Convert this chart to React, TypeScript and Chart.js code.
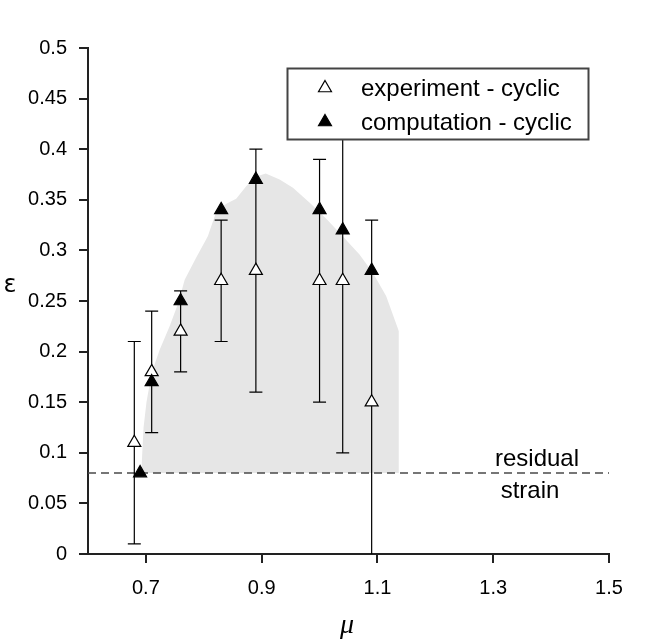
import { useEffect, useRef } from "react"
import { Chart, registerables } from "chart.js"

Chart.register(...registerables)

// experiment - cyclic (open triangles) with error bars
const expMu = [0.68, 0.71, 0.76, 0.83, 0.89, 1.0, 1.04, 1.09]
const expEps = [0.11, 0.18, 0.22, 0.27, 0.28, 0.27, 0.27, 0.15]
const expLow = [0.01, 0.12, 0.18, 0.21, 0.16, 0.15, 0.1, 0.0]
const expHigh = [0.21, 0.24, 0.26, 0.33, 0.4, 0.39, 0.44, 0.33]

// computation - cyclic (filled triangles)
const compMu = [0.69, 0.71, 0.76, 0.83, 0.89, 1.0, 1.04, 1.09]
const compEps = [0.08, 0.17, 0.25, 0.34, 0.37, 0.34, 0.32, 0.28]

// grey band (upper outline, filled down to the residual strain)
const bandMu = [
    0.692, 0.696, 0.701, 0.71, 0.724, 0.741, 0.756, 0.767, 0.787, 0.807, 0.822, 0.839, 0.856,
    0.874, 0.891, 0.907, 0.931, 0.954, 0.983, 1.012, 1.04, 1.069, 1.092, 1.115, 1.137, 1.137,
]
const bandEps = [
    0.08, 0.125, 0.15, 0.179, 0.202, 0.225, 0.248, 0.271, 0.293, 0.314, 0.339, 0.346, 0.351,
    0.364, 0.373, 0.376, 0.37, 0.362, 0.347, 0.331, 0.314, 0.296, 0.278, 0.255, 0.22, 0.08,
]

const residualStrain = 0.08
const xTicks = [0.7, 0.9, 1.1, 1.3, 1.5]

const FONT = "'Liberation Sans', Arial, Helvetica, sans-serif"

function triangle(ctx: CanvasRenderingContext2D, x: number, y: number, r: number, filled: boolean) {
    ctx.beginPath()
    for (let i = 0; i < 3; i++) {
        const a = (i * 2 * Math.PI) / 3
        const px = x + Math.sin(a) * r
        const py = y - Math.cos(a) * r
        if (i === 0) ctx.moveTo(px, py)
        else ctx.lineTo(px, py)
    }
    ctx.closePath()
    ctx.fillStyle = filled ? "#000" : "#fff"
    ctx.fill()
    ctx.lineWidth = 1.2
    ctx.strokeStyle = "#000"
    ctx.stroke()
}

const extrasPlugin = {
    id: "extras",
    beforeDatasetsDraw(chart: any) {
        const { ctx, scales, chartArea } = chart
        const xs = scales.x
        const ys = scales.y
        ctx.save()
        // residual strain line
        const yr = ys.getPixelForValue(residualStrain)
        ctx.setLineDash([8, 5])
        ctx.strokeStyle = "#4a4a4a"
        ctx.lineWidth = 1.5
        ctx.beginPath()
        ctx.moveTo(chartArea.left, yr)
        ctx.lineTo(chartArea.right, yr)
        ctx.stroke()
        ctx.setLineDash([])
        // error bars
        ctx.strokeStyle = "#000"
        ctx.lineWidth = 1.2
        expMu.forEach((m, i) => {
            const x = xs.getPixelForValue(m)
            const y1 = ys.getPixelForValue(expLow[i])
            const y2 = ys.getPixelForValue(expHigh[i])
            ctx.beginPath()
            ctx.moveTo(x, y1)
            ctx.lineTo(x, y2)
            ctx.moveTo(x - 6.5, y2)
            ctx.lineTo(x + 6.5, y2)
            if (expLow[i] > 0) {
                ctx.moveTo(x - 6.5, y1)
                ctx.lineTo(x + 6.5, y1)
            }
            ctx.stroke()
        })
        ctx.restore()
    },
    afterDraw(chart: any) {
        const { ctx } = chart
        ctx.save()
        // legend
        ctx.fillStyle = "#fff"
        ctx.fillRect(287.5, 68.5, 301, 71)
        ctx.strokeStyle = "#444"
        ctx.lineWidth = 2
        ctx.strokeRect(287.5, 68.5, 301, 71)
        triangle(ctx, 325, 88, 7.5, false)
        triangle(ctx, 325, 122, 7.5, true)
        ctx.fillStyle = "#000"
        ctx.font = `24px ${FONT}`
        ctx.textAlign = "left"
        ctx.textBaseline = "alphabetic"
        ctx.fillText("experiment - cyclic", 361, 96)
        ctx.fillText("computation - cyclic", 361, 130)
        // residual strain label
        ctx.textAlign = "center"
        ctx.fillText("residual", 537, 466)
        ctx.fillText("strain", 530, 498)
        // axis titles
        ctx.font = `24px 'DejaVu Sans', sans-serif`
        ctx.fillText("ε", 10, 292)
        ctx.font = `italic 28px 'Liberation Serif', 'Times New Roman', serif`
        ctx.fillText("μ", 347, 633)
        ctx.restore()
    },
}

export default function App() {
    const chartRef = useRef<HTMLCanvasElement>(null)
    const chartInstance = useRef<Chart | null>(null)

    useEffect(() => {
        if (!chartRef.current) return
        if (chartInstance.current) chartInstance.current.destroy()
        const ctx = chartRef.current.getContext("2d")
        if (!ctx) return

        const axisColor = "#222"

        chartInstance.current = new Chart(ctx, {
            type: "scatter",
            data: {
                datasets: [
                    {
                        label: "computation - cyclic",
                        data: compMu.map((m, i) => ({ x: m, y: compEps[i] })),
                        pointStyle: "triangle",
                        pointRadius: 7.5,
                        pointBackgroundColor: "#000",
                        pointBorderColor: "#000",
                        pointBorderWidth: 1.2,
                        showLine: false,
                        order: 0,
                    },
                    {
                        label: "experiment - cyclic",
                        data: expMu.map((m, i) => ({ x: m, y: expEps[i] })),
                        pointStyle: "triangle",
                        pointRadius: 7.5,
                        pointBackgroundColor: "#fff",
                        pointBorderColor: "#000",
                        pointBorderWidth: 1.2,
                        showLine: false,
                        order: 1,
                    },
                    {
                        label: "band",
                        data: bandMu.map((m, i) => ({ x: m, y: bandEps[i] })),
                        showLine: true,
                        borderWidth: 0,
                        borderColor: "rgba(0,0,0,0)",
                        backgroundColor: "#e6e6e6",
                        pointRadius: 0,
                        fill: { value: residualStrain },
                        tension: 0,
                        order: 2,
                    },
                ],
            },
            options: {
                animation: false,
                responsive: false,
                layout: { padding: { left: 0, right: 63, top: 48, bottom: 0 } },
                plugins: {
                    legend: { display: false },
                    tooltip: { enabled: false },
                    filler: { drawTime: "beforeDatasetsDraw" },
                },
                scales: {
                    x: {
                        type: "linear",
                        min: 0.6,
                        max: 1.5,
                        afterBuildTicks: (scale: any) => {
                            scale.ticks = xTicks.map((v) => ({ value: v }))
                        },
                        afterFit: (scale: any) => {
                            scale.height = 87
                        },
                        grid: {
                            display: true,
                            drawOnChartArea: false,
                            drawTicks: true,
                            tickLength: 9,
                            color: axisColor,
                            lineWidth: 2,
                        },
                        border: { display: true, color: axisColor, width: 2 },
                        ticks: {
                            color: "#000",
                            padding: 13,
                            maxRotation: 0,
                            font: { family: FONT, size: 20 },
                            callback: (v: any) => String(+Number(v).toFixed(2)),
                        },
                    },
                    y: {
                        min: 0,
                        max: 0.5,
                        afterFit: (scale: any) => {
                            scale.width = 88
                        },
                        grid: {
                            display: true,
                            drawOnChartArea: false,
                            drawTicks: true,
                            tickLength: 9,
                            color: axisColor,
                            lineWidth: 2,
                        },
                        border: { display: true, color: axisColor, width: 2 },
                        ticks: {
                            stepSize: 0.05,
                            color: "#000",
                            padding: 12,
                            font: { family: FONT, size: 20 },
                            callback: (v: any) => String(+Number(v).toFixed(2)),
                        },
                    },
                },
            } as any,
            plugins: [extrasPlugin],
        })

        return () => {
            if (chartInstance.current) {
                chartInstance.current.destroy()
                chartInstance.current = null
            }
        }
    }, [])

    return (
        <div style={{ position: "absolute", left: 0, top: 0, width: 672, height: 641, background: "#fff" }}>
            <canvas ref={chartRef} width={672} height={641} />
        </div>
    )
}
